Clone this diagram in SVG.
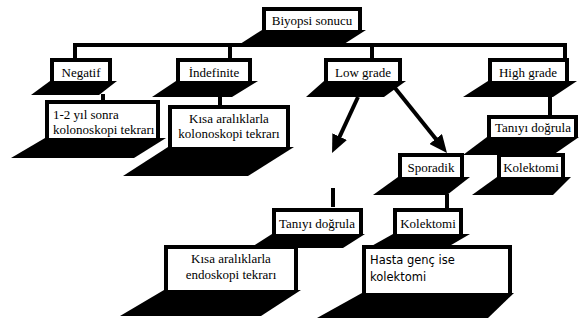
<svg xmlns="http://www.w3.org/2000/svg" width="579" height="323" viewBox="0 0 579 323">
<style>
.frame{fill:#000}
.face{fill:#fff}
.base{fill:#000}
.t{font-family:"Liberation Serif","Times New Roman",serif;font-size:13px;fill:#000}
.s{font-family:"DejaVu Sans",Verdana,sans-serif;font-size:11.5px;fill:#000}
.c{text-anchor:middle}
.ln{stroke:#000;stroke-width:4;fill:none}
</style>
<defs>
<marker id="ah" markerUnits="userSpaceOnUse" markerWidth="18" markerHeight="16" viewBox="0 0 18 16" refX="6" refY="8" orient="auto">
<path d="M0,0 L18,8 L0,16 z" fill="#000"/>
</marker>
</defs>
<rect width="579" height="323" fill="#fff"/>
<g id="connectors">
<path class="ln" d="M75,58 V45 H565 V58"/>
<line class="ln" x1="230" y1="45" x2="230" y2="58"/>
<line class="ln" x1="372" y1="45" x2="372" y2="58"/>
<line class="ln" x1="103" y1="94" x2="103" y2="101"/>
<line class="ln" x1="220" y1="96" x2="220" y2="105"/>
<line class="ln" x1="550" y1="96" x2="550" y2="115"/>
<line class="ln" x1="558" y1="154" x2="558" y2="157"/>
<line class="ln" x1="447" y1="194" x2="447" y2="210"/>
<line class="ln" x1="333" y1="188" x2="333" y2="207"/>
<line class="ln" x1="358" y1="97" x2="337.1" y2="142.1" marker-end="url(#ah)"/>
<line class="ln" x1="395" y1="88" x2="439.5" y2="143.6" marker-end="url(#ah)"/>
</g>
<g id="n-biyopsi">
<polygon class="base" points="262,30 366,30 341,46 237,46"/>
<rect class="frame" x="262" y="7" width="100" height="24"/>
<rect class="face" x="266" y="11" width="92" height="19"/>
<text class="t c" x="312" y="25">Biyopsi sonucu</text>
</g>
<g id="n-negatif">
<polygon class="base" points="50,81 117,81 99,95 31,95"/>
<rect class="frame" x="50" y="58" width="62" height="24"/>
<rect class="face" x="54" y="62" width="54" height="19"/>
<text class="t c" x="81" y="77">Negatif</text>
</g>
<g id="n-indefinite">
<polygon class="base" points="176,81 258,81 232,97 152,97"/>
<rect class="frame" x="176" y="58" width="76" height="24"/>
<rect class="face" x="180" y="62" width="68" height="19"/>
<text class="t c" x="214" y="77">İndefinite</text>
</g>
<g id="n-lowgrade">
<polygon class="base" points="324,81 406,81 384,97 306,97"/>
<rect class="frame" x="324" y="58" width="78" height="24"/>
<rect class="face" x="328" y="62" width="70" height="19"/>
<text class="t c" x="363" y="77">Low grade</text>
</g>
<g id="n-highgrade">
<polygon class="base" points="488,81 577,81 553,97 463,97"/>
<rect class="frame" x="488" y="58" width="81" height="24"/>
<rect class="face" x="492" y="62" width="73" height="19"/>
<text class="t c" x="528" y="77">High grade</text>
</g>
<g id="n-negatif-child">
<polygon class="base" points="45,138 166,138 134,158 11,158"/>
<rect class="frame" x="45" y="100" width="115" height="39"/>
<rect class="face" x="49" y="104" width="107" height="34"/>
<text class="t" x="53" y="119">1-2 yıl sonra</text>
<text class="t" x="53" y="134">kolonoskopi tekrarı</text>
</g>
<g id="n-indefinite-child">
<polygon class="base" points="168,147 294,147 248,176 123,176"/>
<rect class="frame" x="168" y="105" width="122" height="43"/>
<rect class="face" x="172" y="109" width="114" height="38"/>
<text class="t c" x="229" y="123">Kısa aralıklarla</text>
<text class="t c" x="229" y="138">kolonoskopi tekrarı</text>
</g>
<g id="n-tani-right">
<polygon class="base" points="487,137 579,137 553,155 463,155"/>
<rect class="frame" x="487" y="115" width="91" height="23"/>
<rect class="face" x="491" y="119" width="83" height="18"/>
<text class="t c" x="533" y="132">Tanıyı doğrula</text>
</g>
<g id="n-sporadik">
<polygon class="base" points="398,177 470,177 447,195 373,195"/>
<rect class="frame" x="398" y="153" width="66" height="25"/>
<rect class="face" x="402" y="157" width="58" height="20"/>
<text class="t c" x="431" y="172">Sporadik</text>
</g>
<g id="n-kolektomi-right">
<polygon class="base" points="497,177 571,177 553,195 472,195"/>
<rect class="frame" x="497" y="153" width="68" height="25"/>
<rect class="face" x="501" y="157" width="60" height="20"/>
<text class="t c" x="531" y="172">Kolektomi</text>
</g>
<g id="n-tani-mid">
<polygon class="base" points="272,234 365,234 343,248 250,248"/>
<rect class="frame" x="272" y="208" width="91" height="27"/>
<rect class="face" x="276" y="212" width="83" height="22"/>
<text class="t c" x="317" y="228">Tanıyı doğrula</text>
</g>
<g id="n-kolektomi-mid">
<polygon class="base" points="393,234 470,234 446,248 368,248"/>
<rect class="frame" x="393" y="208" width="70" height="27"/>
<rect class="face" x="397" y="212" width="62" height="22"/>
<text class="t c" x="428" y="228">Kolektomi</text>
</g>
<g id="n-kisa-endoskopi">
<polygon class="base" points="164,290 301,290 261,316 120,316"/>
<rect class="frame" x="164" y="245" width="134" height="46"/>
<rect class="face" x="168" y="249" width="126" height="41"/>
<text class="t c" x="231" y="263">Kısa aralıklarla</text>
<text class="t c" x="231" y="279">endoskopi tekrarı</text>
</g>
<g id="n-hasta">
<polygon class="base" points="362,293 514,293 488,318 317,318"/>
<rect class="frame" x="362" y="245" width="150" height="49"/>
<rect class="face" x="366" y="249" width="142" height="44"/>
<text class="s" x="370" y="264">Hasta genç ise</text>
<text class="s" x="370" y="281">kolektomi</text>
</g>
</svg>
